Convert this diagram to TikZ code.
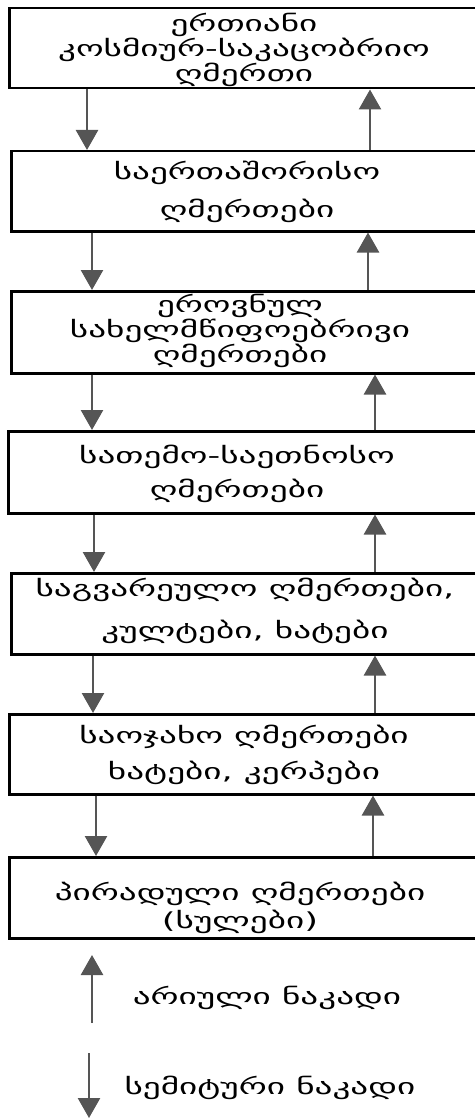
\documentclass[tikz,border=0pt]{standalone}
\usepackage{fontspec}
\newfontfamily\geo[FakeStretch=1.6]{DejaVu Sans}
\usetikzlibrary{arrows.meta}
\definecolor{arrgray}{HTML}{555555}
\begin{document}
\begin{tikzpicture}[x=1pt,y=-1pt,
  box/.style={draw=black,line width=2.5pt,rectangle,minimum width=490pt,inner sep=0pt,anchor=north west},
  lbl/.style={font=\geo\fontsize{22}{23}\selectfont,align=center,inner sep=0pt,text=black},
  arr/.style={draw=arrgray,line width=2.6pt,-{Triangle[width=22pt,length=20pt]},fill=arrgray}]
\useasboundingbox (0,0) rectangle (474,1118);
% boxes
\node[box,minimum height=80pt] (b1) at (8,7) {};
\node[box,minimum height=80pt] (b2) at (10,150) {};
\node[box,minimum height=82pt] (b3) at (10,290) {};
\node[box,minimum height=82pt] (b4) at (7,430) {};
\node[box,minimum height=81pt] (b5) at (10,572) {};
\node[box,minimum height=80pt] (b6) at (8,713) {};
\node[box,minimum height=81pt] (b7) at (8,856) {};
% texts
\node[lbl] (t1) at (244,50) {ერთიანი\\კოსმიურ-საკაცობრიო\\ღმერთი};
\node[lbl] (t2) at (247,192) {საერთაშორისო\\[13pt]ღმერთები};
\node[lbl] (t3) at (240,331) {ეროვნულ\\სახელმწიფოებრივი\\ღმერთები};
\node[lbl] (t4) at (237,474) {სათემო-საეთნოსო\\[9pt]ღმერთები};
\node[lbl] (t5) at (245,611) {საგვარეულო ღმერთები,\\[17pt]კულტები, ხატები};
\node[lbl] (t6) at (244,755) {საოჯახო ღმერთები\\[12pt]ხატები, კერპები};
\node[lbl] (t7) at (240,908) {პირადული ღმერთები\\[3pt](სულები)};
% arrow columns
\coordinate (d1) at (87,0);
\coordinate (d2) at (92,0);
\coordinate (d3) at (92,0);
\coordinate (d4) at (94,0);
\coordinate (d5) at (93,0);
\coordinate (d6) at (96,0);
\coordinate (u1) at (370,0);
\coordinate (u2) at (368,0);
\coordinate (u3) at (375,0);
\coordinate (u4) at (375,0);
\coordinate (u5) at (375,0);
\coordinate (u6) at (373,0);
\draw[arr] (b1.south -| d1) -- (b2.north -| d1);
\draw[arr] (b2.south -| d2) -- (b3.north -| d2);
\draw[arr] (b3.south -| d3) -- (b4.north -| d3);
\draw[arr] (b4.south -| d4) -- (b5.north -| d4);
\draw[arr] (b5.south -| d5) -- (b6.north -| d5);
\draw[arr] (b6.south -| d6) -- (b7.north -| d6);
\draw[arr] (b2.north -| u1) -- (b1.south -| u1);
\draw[arr] (b3.north -| u2) -- (b2.south -| u2);
\draw[arr] (b4.north -| u3) -- (b3.south -| u3);
\draw[arr] (b5.north -| u4) -- (b4.south -| u4);
\draw[arr] (b6.north -| u5) -- (b5.south -| u5);
\draw[arr] (b7.north -| u6) -- (b6.south -| u6);
% legend
\coordinate (la0) at (92,1023);
\coordinate (la1) at (92,955);
\coordinate (lb0) at (89,1053);
\coordinate (lb1) at (89,1118);
\draw[arr] (la0) -- (la1);
\draw[arr] (lb0) -- (lb1);
\node[lbl] (l1) at (267,998) {არიული ნაკადი};
\node[lbl] (l2) at (270,1088) {სემიტური ნაკადი};
\end{tikzpicture}
\end{document}
